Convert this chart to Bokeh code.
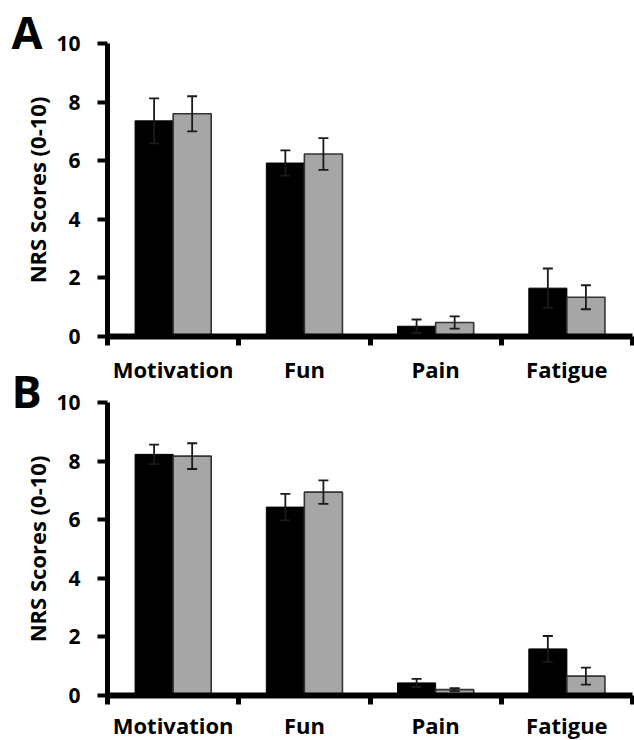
from bokeh.plotting import figure
from bokeh.layouts import column
from bokeh.models import Range1d, FixedTicker, ColumnDataSource, Whisker, TeeHead
from bokeh.core.properties import value
from bokeh.embed import file_html
from bokeh.resources import INLINE

# Categories and NRS scores (mean, error) for the two groups in each panel
categories = ["Motivation", "Fun", "Pain", "Fatigue"]
y_ticks = [0, 2, 4, 6, 8, 10]

a_dark = [7.36, 5.92, 0.35, 1.65]
a_dark_err = [0.77, 0.43, 0.23, 0.67]
a_light = [7.60, 6.23, 0.48, 1.34]
a_light_err = [0.60, 0.54, 0.21, 0.41]

b_dark = [8.23, 6.43, 0.43, 1.59]
b_dark_err = [0.33, 0.45, 0.14, 0.44]
b_light = [8.17, 6.94, 0.20, 0.66]
b_light_err = [0.44, 0.40, 0.05, 0.29]

panel_letters = ["A", "B"]

FONT = "Open Sans"
DARK = "#000000"
LIGHT = "#a6a6a6"
BAR_W = 0.29
W, H = 634, 740
ROOT_GAP = 19  # vertical gap the page leaves between the two roots
centers = [i + 0.5 for i in range(len(categories))]
bounds = list(range(len(categories) + 1))


def panel(dark, dark_err, light, light_err, border_top, border_bottom, label_gap):
    p = figure(frame_width=525, frame_height=293,
               min_border_left=107, min_border_right=2,
               min_border_top=border_top, min_border_bottom=border_bottom,
               x_range=Range1d(0, len(categories)), y_range=Range1d(0, 10),
               output_backend="svg", toolbar_location=None)
    p.grid.visible = False
    p.outline_line_color = None
    p.background_fill_color = None
    p.border_fill_color = None

    for vals, errs, shift, fill, line, lw in (
        (dark, dark_err, -0.145, DARK, DARK, 1),
        (light, light_err, 0.145, LIGHT, "#333333", 1.6),
    ):
        xs = [c + shift for c in centers]
        src = ColumnDataSource(dict(
            x=xs, top=vals,
            upper=[v + e for v, e in zip(vals, errs)],
            lower=[v - e for v, e in zip(vals, errs)],
        ))
        p.vbar(x="x", top="top", bottom=0, width=BAR_W, source=src,
               fill_color=fill, line_color=line, line_width=lw)
        p.add_layout(Whisker(
            source=src, base="x", upper="upper", lower="lower",
            line_color="#1a1a1a", line_width=1.8, level="overlay",
            upper_head=TeeHead(size=10, line_color="#1a1a1a", line_width=1.8),
            lower_head=TeeHead(size=10, line_color="#1a1a1a", line_width=1.8),
        ))

    xa = p.xaxis[0]
    xa.ticker = FixedTicker(ticks=centers, minor_ticks=bounds)
    xa.major_label_overrides = {c: name for c, name in zip(centers, categories)}
    xa.axis_line_width = 6
    xa.axis_line_color = "black"
    xa.major_tick_line_color = None
    xa.major_tick_out = 0
    xa.major_tick_in = 0
    xa.minor_tick_line_color = "black"
    xa.minor_tick_line_width = 5
    xa.minor_tick_out = 9
    xa.minor_tick_in = 0
    xa.major_label_text_font = FONT
    xa.major_label_text_font_style = "bold"
    xa.major_label_text_font_size = "22px"
    xa.major_label_text_color = "black"
    xa.major_label_standoff = label_gap

    ya = p.yaxis[0]
    ya.ticker = FixedTicker(ticks=y_ticks)
    ya.axis_line_width = 5
    ya.axis_line_color = "black"
    ya.major_tick_line_width = 4
    ya.major_tick_out = 10
    ya.major_tick_in = 0
    ya.minor_tick_line_color = None
    ya.major_label_text_font = FONT
    ya.major_label_text_font_style = "bold"
    ya.major_label_text_font_size = "21px"
    ya.major_label_text_color = "black"
    ya.major_label_standoff = 17
    ya.axis_label = "NRS Scores (0-10)"
    ya.axis_label_text_font = FONT
    ya.axis_label_text_font_style = "bold"
    ya.axis_label_text_font_size = "22px"
    ya.axis_label_text_color = "black"
    ya.axis_label_standoff = 1
    return p


pa = panel(a_dark, a_dark_err, a_light, a_light_err, 43, 49, 8)
pa.border_fill_color = "white"
pb = panel(b_dark, b_dark_err, b_light, b_light_err, 31, 46, 5)
pb.margin = (-15, 0, 0, 0)
panels = column(pa, pb, spacing=0)

# transparent full-page overlay (its own root) carrying the panel letters;
# coordinates are page pixels
letters = figure(width=W, height=H, x_range=Range1d(0, W), y_range=Range1d(H, 0),
                 x_axis_type=None, y_axis_type=None, min_border=0, title=None,
                 output_backend="svg", toolbar_location=None)
letters.grid.visible = False
letters.outline_line_color = None
letters.background_fill_color = None
letters.border_fill_color = None
letters.margin = (-(H + ROOT_GAP), 0, 0, 0)
letters.text(x=[11, 11], y=[48, 407], text=panel_letters, text_font=value(FONT),
             text_font_style="bold", text_font_size="45px", text_color="black",
             text_baseline="alphabetic", text_align="left")

open("out.html", "w").write(file_html([panels, letters], INLINE))
